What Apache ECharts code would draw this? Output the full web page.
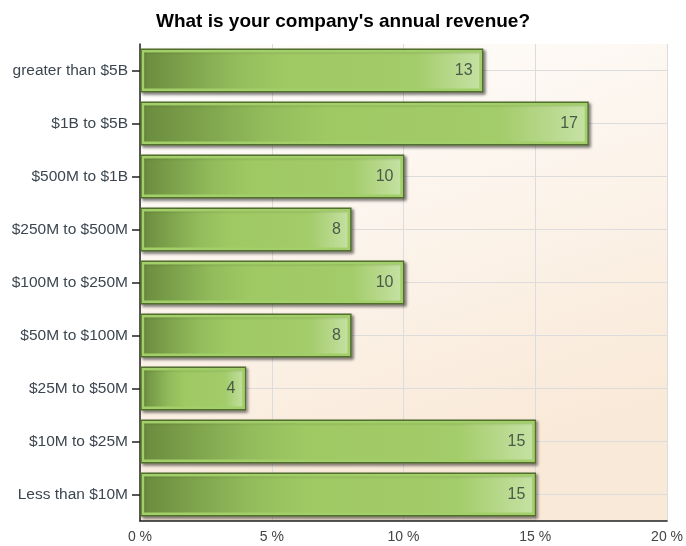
<!DOCTYPE html>
<html>
<head>
<meta charset="utf-8">
<script src="https://cdn.jsdelivr.net/npm/echarts@6/dist/echarts.min.js"></script>
<style>
  html, body { margin: 0; padding: 0; background: #fff; }
  #chart { width: 686px; height: 546px; }
</style>
</head>
<body>
<div id="chart"></div>
<script>
// categories, top to bottom
const categories = [
  'greater than $5B',
  '$1B to $5B',
  '$500M to $1B',
  '$250M to $500M',
  '$100M to $250M',
  '$50M to $100M',
  '$25M to $50M',
  '$10M to $25M',
  'Less than $10M'
];
// share of respondents, %
const shares = [13, 17, 10, 8, 10, 8, 4, 15, 15];
const xTicks = [0, 5, 10, 15, 20];

const chart = echarts.init(document.getElementById('chart'));

// bar body: dark outline, light inner rim, horizontal green gradient
const renderBar = (params, api) => {
  const idx = api.value(1);
  const val = api.value(0);
  const start = api.coord([0, idx]);
  const end = api.coord([val, idx]);
  const h = api.size([0, 1])[1] * 0.8;
  const x = start[0] + 1;
  const y = start[1] - h / 2;
  const w = end[0] - x;
  return {
    type: 'group',
    children: [
      {
        type: 'rect',
        shape: { x: x, y: y, width: w, height: h },
        style: {
          fill: new echarts.graphic.LinearGradient(0, 0, 1, 0, [
            { offset: 0, color: '#698a3d' },
            { offset: 0.28, color: '#93bd5c' },
            { offset: 0.42, color: '#9fc963' },
            { offset: 0.8, color: '#a3cc6a' },
            { offset: 1, color: '#c7e2a6' }
          ]),
          stroke: '#526f2e',
          lineWidth: 1.5,
          shadowBlur: 3,
          shadowOffsetX: 2,
          shadowOffsetY: 2,
          shadowColor: 'rgba(0,0,0,0.45)'
        }
      },
      {
        type: 'rect',
        shape: { x: x + 2, y: y + 2, width: w - 4, height: h - 4 },
        style: { fill: null, stroke: '#a2cf69', lineWidth: 2.5 }
      },
      {
        type: 'text',
        style: {
          x: end[0] - 10,
          y: start[1],
          text: String(val),
          align: 'right',
          verticalAlign: 'middle',
          fill: '#4b5a48',
          font: '16px "Liberation Sans", Arial, sans-serif'
        }
      }
    ]
  };
};

const option = {
  animation: false,
  backgroundColor: '#fff',
  textStyle: { fontFamily: '"Liberation Sans", Arial, sans-serif' },
  title: {
    text: "What is your company's annual revenue?",
    left: 'center',
    top: 7,
    textStyle: { fontSize: 19, fontWeight: 'bold', color: '#000' }
  },
  grid: {
    left: 140,
    right: 18,
    top: 44,
    bottom: 25,
    show: true,
    borderWidth: 0,
    backgroundColor: new echarts.graphic.LinearGradient(0, 0, 0.3, 1, [
      { offset: 0, color: '#ffffff' },
      { offset: 1, color: '#f9e9d8' }
    ])
  },
  xAxis: {
    type: 'value',
    min: 0,
    max: 20,
    interval: 5,
    axisLine: { show: true, lineStyle: { color: '#222', width: 1.5 } },
    axisTick: { show: false },
    axisLabel: {
      color: '#444',
      fontSize: 14,
      margin: 9,
      formatter: v => (xTicks.includes(v) ? v + ' %' : '')
    },
    splitLine: { show: true, lineStyle: { color: '#dcdcdc' } }
  },
  yAxis: {
    type: 'category',
    inverse: true,
    data: categories,
    axisLine: { show: true, lineStyle: { color: '#222', width: 1.5 } },
    axisTick: { show: true, alignWithLabel: true, length: 8, lineStyle: { color: '#222', width: 1.5 } },
    axisLabel: { color: '#3d4650', fontSize: 15.5, margin: 12 },
    splitLine: { show: true, alignWithLabel: true, lineStyle: { color: '#dcdcdc' } }
  },
  series: [
    {
      type: 'custom',
      renderItem: renderBar,
      encode: { x: 0, y: 1 },
      data: shares.map((v, i) => [v, i])
    }
  ]
};

chart.setOption(option);
</script>
</body>
</html>
